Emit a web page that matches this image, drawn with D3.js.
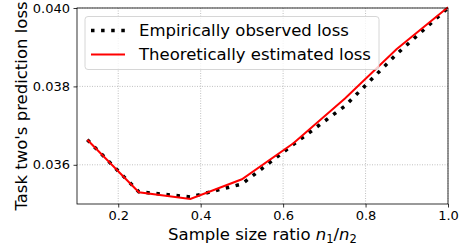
<!DOCTYPE html>
<html>
<head>
<meta charset="utf-8">
<script src="https://cdn.jsdelivr.net/npm/d3@7"></script>
<style>
  body { margin: 0; background: #fff; }
  text { font-family: "DejaVu Sans", sans-serif; fill: #000; }
</style>
</head>
<body>
<svg id="svg"></svg>
<script>
var ratios = [0.125, 0.25, 0.375, 0.5, 0.625, 0.75, 0.875, 1.0];
var empirical = [0.03664, 0.03531, 0.03518, 0.03551, 0.03652, 0.03750, 0.03882, 0.04000];
var theoretical = [0.03664, 0.03530, 0.03513, 0.03563, 0.03655, 0.03769, 0.03895, 0.04002];
var xTicks = [0.2, 0.4, 0.6, 0.8, 1.0];
var yTicks = [0.036, 0.038, 0.040];

var width = 461, height = 250;
// plot box (note: "top" is taken by window.top, so use pTop etc.)
var pLeft = 77, pRight = 448, pTop = 8, pBottom = 204;
var dots = '3.5,6.6';

var svg = d3.select('#svg')
  .attr('width', width)
  .attr('height', height);

var x = d3.scaleLinear().domain([0.1, 1.0]).range([pLeft, pRight]);
var y = d3.scaleLinear().domain([0.035, 0.040]).range([pBottom, pTop]);

// grid
var grid = svg.append('g');
grid.selectAll('.gx').data(xTicks).enter().append('line')
  .attr('x1', d => x(d)).attr('x2', d => x(d))
  .attr('y1', pTop).attr('y2', pBottom);
grid.selectAll('.gy').data(yTicks).enter().append('line')
  .attr('x1', pLeft).attr('x2', pRight)
  .attr('y1', d => y(d)).attr('y2', d => y(d));
grid.selectAll('line')
  .attr('stroke', '#b0b0b0')
  .attr('stroke-width', 0.8)
  .attr('stroke-dasharray', '1,1.5');

svg.append('clipPath').attr('id', 'clip')
  .append('rect').attr('x', pLeft).attr('y', pTop - 2)
  .attr('width', pRight - pLeft).attr('height', pBottom - pTop + 2);

var line = d3.line().x(d => x(d[0])).y(d => y(d[1]));

var plot = svg.append('g').attr('clip-path', 'url(#clip)');
plot.append('path')
  .attr('d', line(d3.zip(ratios, empirical)))
  .attr('fill', 'none')
  .attr('stroke', '#000')
  .attr('stroke-width', 3.5)
  .attr('stroke-dasharray', dots);
plot.append('path')
  .attr('d', line(d3.zip(ratios, theoretical)))
  .attr('fill', 'none')
  .attr('stroke', '#ff0000')
  .attr('stroke-width', 2);

// axes
var xAxis = svg.append('g').attr('transform', 'translate(0,' + pBottom + ')')
  .call(d3.axisBottom(x).tickValues(xTicks).tickFormat(d3.format('.1f')).tickSizeOuter(0).tickSize(3.5).tickPadding(3.5));
var yAxis = svg.append('g').attr('transform', 'translate(' + pLeft + ',0)')
  .call(d3.axisLeft(y).tickValues(yTicks).tickFormat(d3.format('.3f')).tickSizeOuter(0).tickSize(3.5).tickPadding(3.5));
[xAxis, yAxis].forEach(function (a) {
  a.select('.domain').remove();
  a.selectAll('text').attr('font-size', 13).attr('font-family', '"DejaVu Sans", sans-serif').attr('fill', '#000');
  a.selectAll('line').attr('stroke', '#000').attr('stroke-width', 0.8);
});

svg.append('rect')
  .attr('x', pLeft).attr('y', pTop)
  .attr('width', pRight - pLeft).attr('height', pBottom - pTop)
  .attr('fill', 'none').attr('stroke', '#000').attr('stroke-width', 0.8);

// labels
var xl = svg.append('text')
  .attr('x', (pLeft + pRight) / 2).attr('y', 240)
  .attr('text-anchor', 'middle').attr('font-size', 16.5);
xl.append('tspan').text('Sample size ratio ');
xl.append('tspan').attr('font-style', 'italic').text('n');
xl.append('tspan').attr('font-size', 11.5).attr('dy', 3).text('1');
xl.append('tspan').attr('dy', -3).text('/');
xl.append('tspan').attr('font-style', 'italic').text('n');
xl.append('tspan').attr('font-size', 11.5).attr('dy', 3).text('2');

svg.append('text')
  .attr('transform', 'translate(27,' + ((pTop + pBottom) / 2) + ') rotate(-90)')
  .attr('text-anchor', 'middle').attr('font-size', 16.5)
  .text("Task two's prediction loss");

// legend
var legend = svg.append('g');
legend.append('rect')
  .attr('x', 85).attr('y', 16.5).attr('width', 294).attr('height', 53).attr('rx', 3)
  .attr('fill', '#fff').attr('fill-opacity', 0.8)
  .attr('stroke', '#cccccc').attr('stroke-width', 0.8);
var items = [
  { label: 'Empirically observed loss', color: '#000', w: 3.5, dash: dots },
  { label: 'Theoretically estimated loss', color: '#ff0000', w: 2, dash: null }
];
items.forEach(function (it, i) {
  var yy = 30.5 + i * 24;
  legend.append('line')
    .attr('x1', 91).attr('x2', 125).attr('y1', yy).attr('y2', yy)
    .attr('stroke', it.color).attr('stroke-width', it.w)
    .attr('stroke-dasharray', it.dash);
  legend.append('text')
    .attr('x', 139).attr('y', yy + 5.5).attr('font-size', 16.5)
    .text(it.label);
});
</script>
</body>
</html>
